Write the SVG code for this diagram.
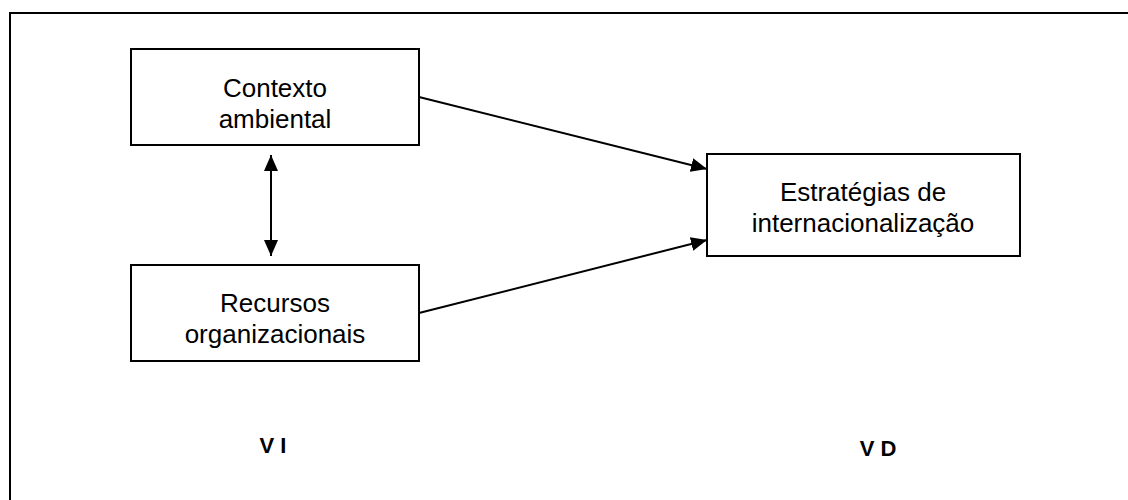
<svg xmlns="http://www.w3.org/2000/svg" width="1128" height="500" viewBox="0 0 1128 500">
<style>
.box{fill:#fff;stroke:#000;stroke-width:2}
.t{font-family:"Liberation Sans",Arial,sans-serif;font-size:26px;fill:#000;text-anchor:middle}
.lbl{font-family:"Liberation Sans",Arial,sans-serif;font-size:22px;font-weight:bold;fill:#000;text-anchor:middle}
.con{stroke:#000;stroke-width:2;fill:none}
</style>
<defs>
<marker id="ah" markerUnits="userSpaceOnUse" markerWidth="16" markerHeight="16" viewBox="0 0 16 16" refX="16" refY="8" orient="auto-start-reverse">
<path d="M0,1 L16,8 L0,15 Z" fill="#000"/>
</marker>
</defs>
<rect width="1128" height="500" fill="#fff"/>
<g id="frame">
<path d="M10,500 L10,13 L1128,13" fill="none" stroke="#000" stroke-width="2"/>
</g>
<g id="connectors">
<line class="con" x1="271" y1="155" x2="271" y2="256" marker-start="url(#ah)" marker-end="url(#ah)"/>
<line class="con" x1="419" y1="97" x2="707" y2="169" marker-end="url(#ah)"/>
<line class="con" x1="419" y1="313" x2="707" y2="240" marker-end="url(#ah)"/>
</g>
<g id="contexto">
<rect class="box" x="131" y="49" width="288" height="96"/>
<text class="t" x="275" y="97">Contexto</text>
<text class="t" x="275" y="128">ambiental</text>
</g>
<g id="recursos">
<rect class="box" x="131" y="265" width="288" height="96"/>
<text class="t" x="275" y="312">Recursos</text>
<text class="t" x="275" y="343">organizacionais</text>
</g>
<g id="estrategias">
<rect class="box" x="707" y="154" width="313" height="102"/>
<text class="t" x="863" y="201">Estratégias de</text>
<text class="t" x="863" y="232">internacionalização</text>
</g>
<g id="vi"><text class="lbl" x="273" y="453">V I</text></g>
<g id="vd"><text class="lbl" x="878" y="456">V D</text></g>
</svg>
